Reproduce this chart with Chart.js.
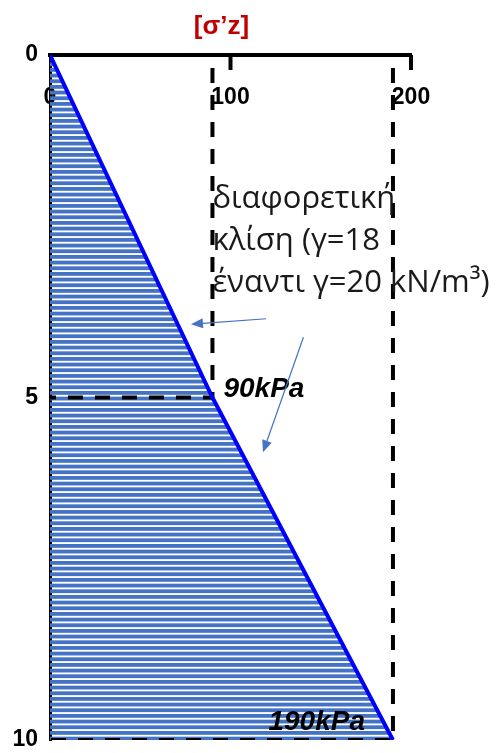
<!DOCTYPE html>
<html>
<head>
<meta charset="utf-8">
<script src="https://cdn.jsdelivr.net/npm/chart.js@4/dist/chart.umd.min.js"></script>
<style>
  html, body { margin: 0; padding: 0; background: #ffffff; }
  canvas { display: block; }
</style>
</head>
<body>
<canvas id="chart" width="499" height="753"></canvas>
<script>
// Effective vertical stress σ'z (kPa) with depth z (m)
const depths = [0, 5, 10];
const stresses = [0, 90, 190];

// Axis ticks
const stressTicks = [0, 100, 200];
const depthTicks = [0, 5, 10];

// Dashed reference lines to the layer boundaries
const guideUpperStress = [90, 90, 0];
const guideUpperDepth = [0, 5, 5];
const guideLowerStress = [190, 190, 0];
const guideLowerDepth = [0, 10, 10];

// Texts
const axisTitle = '[σ’z]';
const valueLabels = ['', '90kPa', '190kPa'];
const noteLines = ['διαφορετική', 'κλίση (γ=18', 'έναντι γ=20 kN/m³)'];

const toPoints = (xs, ys) => xs.map((x, i) => ({ x: x, y: ys[i] }));

// Horizontal hatching used for the stress diagram area
function makeHatch() {
  const c = document.createElement('canvas');
  c.width = 8; c.height = 17;
  const g = c.getContext('2d');
  g.fillStyle = '#4472C4';
  for (let i = 0; i < 3; i++) {
    g.fillRect(0, i * 17 / 3, 8, 3.8);
  }
  return g.createPattern(c, 'repeat');
}

const annotations = {
  id: 'annotations',
  afterDatasetsDraw(chart) {
    const { ctx, chartArea } = chart;
    const xs = chart.scales.x, ys = chart.scales.y;
    const px = v => xs.getPixelForValue(v);
    const py = v => ys.getPixelForValue(v);

    // tick marks of the stress axis, pointing into the plot
    ctx.save();
    ctx.strokeStyle = '#000';
    ctx.lineWidth = 4;
    xs.ticks.forEach(t => {
      if (t.value === 0) return;
      const x = px(t.value);
      ctx.beginPath();
      ctx.moveTo(x, chartArea.top);
      ctx.lineTo(x, chartArea.top + 15);
      ctx.stroke();
    });
    ctx.restore();

    // axis title
    ctx.save();
    ctx.fillStyle = '#C00000';
    ctx.font = 'bold 26px "Liberation Sans", Arial, sans-serif';
    ctx.textAlign = 'center';
    ctx.textBaseline = 'middle';
    ctx.fillText(axisTitle, px(95), chartArea.top - 28);
    ctx.restore();

    // stress values at the layer boundaries
    const meta = chart.getDatasetMeta(0);
    ctx.save();
    ctx.fillStyle = '#000';
    ctx.font = 'italic bold 28px "Liberation Sans", Arial, sans-serif';
    ctx.textBaseline = 'alphabetic';
    const p1 = meta.data[1];
    ctx.textAlign = 'left';
    ctx.fillText(valueLabels[1], p1.x + 11, p1.y - 1);
    const p2 = meta.data[2];
    ctx.textAlign = 'right';
    ctx.fillText(valueLabels[2], p2.x - 28, p2.y - 10);
    ctx.restore();

    // note on the change of slope
    ctx.save();
    ctx.fillStyle = '#1a1a1a';
    ctx.font = '31px "Open Sans", "Noto Sans", sans-serif';
    ctx.textAlign = 'left';
    ctx.textBaseline = 'alphabetic';
    const nx = px(90), ny = py(2.23);
    noteLines.forEach((line, i) => ctx.fillText(line, nx, ny + i * 42));
    ctx.restore();

    // arrows pointing at the two slopes
    const arrow = (x0, y0, x1, y1) => {
      const ax = px(x0), ay = py(y0), bx = px(x1), by = py(y1);
      const ang = Math.atan2(by - ay, bx - ax);
      const len = 12, half = 5;
      const hx = bx - len * Math.cos(ang), hy = by - len * Math.sin(ang);
      ctx.beginPath();
      ctx.moveTo(ax, ay);
      ctx.lineTo(hx, hy);
      ctx.stroke();
      ctx.beginPath();
      ctx.moveTo(bx, by);
      ctx.lineTo(hx + half * Math.sin(ang), hy - half * Math.cos(ang));
      ctx.lineTo(hx - half * Math.sin(ang), hy + half * Math.cos(ang));
      ctx.closePath();
      ctx.fill();
    };
    ctx.save();
    ctx.strokeStyle = '#4472C4';
    ctx.fillStyle = '#4472C4';
    ctx.lineWidth = 1.2;
    arrow(119.7, 3.85, 78.1, 3.93);
    arrow(140.4, 4.12, 118, 5.80);
    ctx.restore();
  }
};

const tickFont = { family: '"Liberation Sans", Arial, sans-serif', size: 23, weight: 'bold' };

new Chart(document.getElementById('chart'), {
  type: 'line',
  data: {
    datasets: [
      {
        data: toPoints(stresses, depths),
        borderColor: '#0000FF',
        borderWidth: 4,
        backgroundColor: makeHatch(),
        fill: 'origin',
        pointRadius: 0,
        order: 0
      },
      {
        data: toPoints(guideUpperStress, guideUpperDepth),
        borderColor: '#000000',
        borderWidth: 4,
        borderDash: [15, 12],
        borderDashOffset: 14,
        fill: false,
        pointRadius: 0,
        order: 1
      },
      {
        data: toPoints(guideLowerStress, guideLowerDepth),
        borderColor: '#000000',
        borderWidth: 4,
        borderDash: [15, 12],
        borderDashOffset: 14,
        fill: false,
        pointRadius: 0,
        order: 1
      }
    ]
  },
  options: {
    indexAxis: 'y',
    responsive: false,
    animation: false,
    layout: { padding: { top: 0, left: 0, right: 88, bottom: 13 } },
    plugins: {
      legend: { display: false },
      tooltip: { enabled: false },
      filler: { drawTime: 'beforeDatasetsDraw' }
    },
    scales: {
      x: {
        type: 'linear',
        position: 'top',
        min: 0,
        max: 200,
        afterBuildTicks: s => { s.ticks = stressTicks.map(v => ({ value: v })); },
        afterFit: s => { s.height = 55; s.paddingLeft = 0; s.paddingRight = 0; },
        grid: { display: true, drawOnChartArea: false, drawTicks: false },
        border: { display: true, color: '#000', width: 4 },
        ticks: { color: '#000', font: tickFont, mirror: true, padding: 29, maxRotation: 0 }
      },
      y: {
        type: 'linear',
        position: 'left',
        reverse: true,
        min: 0,
        max: 10,
        afterBuildTicks: s => { s.ticks = depthTicks.map(v => ({ value: v })); },
        afterFit: s => { s.width = 50; s.paddingTop = 0; s.paddingBottom = 0; },
        grid: { display: true, drawOnChartArea: false, drawTicks: false },
        border: { display: true, color: '#000', width: 3 },
        ticks: { color: '#000', font: tickFont, padding: 12 }
      }
    }
  },
  plugins: [annotations]
});
</script>
</body>
</html>
